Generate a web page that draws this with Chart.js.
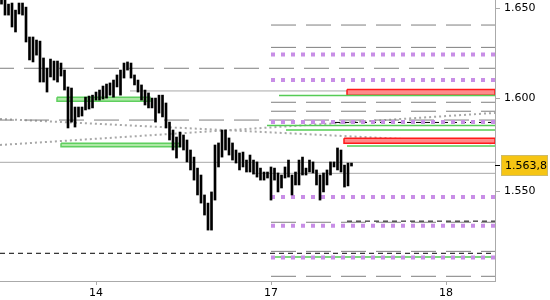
<!DOCTYPE html>
<html>
<head>
<meta charset="utf-8">
<script src="https://cdn.jsdelivr.net/npm/chart.js@4.4.1/dist/chart.umd.min.js"></script>
<style>
  html, body { margin: 0; padding: 0; background: #fff; }
</style>
</head>
<body>
<canvas id="chart" width="550" height="300"></canvas>
<script>
// time axis in trading days: 14th = 1, 17th = 2, 18th = 3
const dayTicks = [1, 2, 3];
const dayLabels = ['14', '17', '18'];
const priceTicks = [1.55, 1.6, 1.65];
const priceLabels = ['1.550', '1.600', '1.650'];
const xMin = 0.4514, xMax = 3.28;
const yMin = 1.50298, yMax = 1.65472;

// bars, one every 1/50 day
const firstBar = 0.46;
const barStep = 0.02;
const highs = [1.6564, 1.6547, 1.6524, 1.6530, 1.6490, 1.6530, 1.6530, 1.6507, 1.6339, 1.6339,
  1.6322, 1.6316, 1.6222, 1.6166, 1.6216, 1.6205, 1.6205, 1.6194, 1.6155, 1.6062,
  1.6056, 1.5952, 1.5952, 1.5952, 1.6006, 1.6012, 1.6017, 1.6034, 1.6045, 1.6067,
  1.6078, 1.6084, 1.6100, 1.6128, 1.6155, 1.6194, 1.6200, 1.6194, 1.6128, 1.6100,
  1.6073, 1.6045, 1.6029, 1.6001, 1.6001, 1.6017, 1.6017, 1.5974, 1.5870, 1.5827,
  1.5789, 1.5816, 1.5800, 1.5773, 1.5719, 1.5681, 1.5622, 1.5585, 1.5479, 1.5436,
  1.5495, 1.5746, 1.5757, 1.5827, 1.5827, 1.5784, 1.5757, 1.5719, 1.5703, 1.5708,
  1.5665, 1.5692, 1.5665, 1.5655, 1.5622, 1.5601, 1.5601, 1.5628, 1.5622, 1.5596,
  1.5585, 1.5628, 1.5665, 1.5585, 1.5601, 1.5665, 1.5681, 1.5622, 1.5665, 1.5655,
  1.5612, 1.5585, 1.5596, 1.5612, 1.5655, 1.5655, 1.5730, 1.5719, 1.5638, 1.5649,
  1.5649];
const lows = [1.6524, 1.6462, 1.6462, 1.6395, 1.6367, 1.6468, 1.6462, 1.6311, 1.6211, 1.6200,
  1.6238, 1.6089, 1.6089, 1.6034, 1.6117, 1.6100, 1.6089, 1.6122, 1.6045, 1.5838,
  1.5870, 1.5843, 1.5898, 1.5903, 1.5936, 1.5941, 1.5947, 1.5990, 1.5990, 1.5996,
  1.6001, 1.6017, 1.6006, 1.6062, 1.6017, 1.6111, 1.6155, 1.6111, 1.6073, 1.6034,
  1.5990, 1.5963, 1.5947, 1.5947, 1.5870, 1.5919, 1.5898, 1.5838, 1.5773, 1.5719,
  1.5676, 1.5735, 1.5719, 1.5655, 1.5612, 1.5558, 1.5479, 1.5436, 1.5373, 1.5294,
  1.5294, 1.5452, 1.5628, 1.5681, 1.5719, 1.5692, 1.5665, 1.5649, 1.5612, 1.5628,
  1.5601, 1.5601, 1.5590, 1.5574, 1.5558, 1.5558, 1.5569, 1.5452, 1.5558, 1.5495,
  1.5516, 1.5569, 1.5574, 1.5479, 1.5532, 1.5532, 1.5585, 1.5585, 1.5601, 1.5596,
  1.5532, 1.5452, 1.5495, 1.5532, 1.5585, 1.5628, 1.5612, 1.5601, 1.5521, 1.5527,
  1.5633];
const lastPrice = 1.5638;
const lastLabel = '1.563,8';

// horizontal levels (price, start day)
const dashLevels = [1.6406, 1.6281, 1.6165, 1.5978, 1.5929, 1.5881, 1.5335, 1.5183, 1.5054];
const dashStarts = [2, 2, xMin, 2, 2, xMin, 2, 2, 2];
const purpleLevels = [1.6242, 1.6100, 1.5870, 1.5468, 1.5317, 1.5151];
const purpleStarts = [2, 2, 2, 2, 2, 2];
const greyLevels = [1.6040, 1.5653, 1.5594];
const greyStarts = [1.1943, xMin, 1.8971];
const greenLevels = [1.6015, 1.5852, 1.5827, 1.5740, 1.5154];
const greenStarts = [2.0457, 1.9771, 2.0857, 2.4343, 2];
const blackLevels = [1.5868, 1.5341, 1.5173];
const blackStarts = [2.3657, 2.4343, xMin];
// zones: [top, bottom, from, to]
const redZones = [[1.6048, 1.6017, 2.4343, xMax], [1.5782, 1.5755, 2.4171, xMax]];
const greenZones = [[1.6005, 1.5983, 0.7771, 1.3086], [1.5755, 1.5737, 0.8, 1.48]];
// dotted trend lines: [start price, end price]
const trendLines = [[1.5887, 1.5754], [1.5746, 1.5920]];

function level(price, from, style) {
  return Object.assign({
    type: 'line',
    data: [{ x: from, y: price }, { x: xMax, y: price }],
    pointRadius: 0, fill: false, borderWidth: 1
  }, style);
}
function zone(z, style) {
  const [top, bot, from, to] = z;
  return Object.assign({
    type: 'line',
    data: [{ x: from, y: top }, { x: to, y: top }, { x: to, y: bot }, { x: from, y: bot }, { x: from, y: top }],
    pointRadius: 0, fill: 'shape', borderWidth: 1.5
  }, style);
}

const datasets = [];
datasets.push({
  type: 'bar',
  data: highs.map((h, i) => ({ x: firstBar + i * barStep, y: [lows[i], h] })),
  backgroundColor: '#000',
  barThickness: 2,
  order: 0
});
purpleLevels.forEach((p, i) => datasets.push(level(p, purpleStarts[i], {
  borderColor: '#c88ee6', borderWidth: 4, borderDash: [4, 6], borderCapStyle: 'butt', order: 1
})));
blackLevels.forEach((p, i) => datasets.push(level(p, blackStarts[i], {
  borderColor: '#000', borderDash: [5, 4], order: 2
})));
greenLevels.forEach((p, i) => datasets.push(level(p, greenStarts[i], {
  borderColor: '#55cc55', borderWidth: 1.5, order: 2
})));
redZones.forEach(z => datasets.push(zone(z, {
  borderColor: '#ff1a1a', backgroundColor: '#ff8a8a', order: 3
})));
greenZones.forEach(z => datasets.push(zone(z, {
  borderColor: '#5fcf5f', backgroundColor: '#aee8a6', order: 3
})));
dashLevels.forEach((p, i) => datasets.push(level(p, dashStarts[i], {
  borderColor: '#7f7f7f', borderDash: [25, 10], borderDashOffset: dashStarts[i] === xMin ? 11 : 0, order: 4
})));
greyLevels.forEach((p, i) => datasets.push(level(p, greyStarts[i], {
  borderColor: '#a8a8a8', order: 4
})));
trendLines.forEach(t => datasets.push({
  type: 'line',
  data: [{ x: xMin, y: t[0] }, { x: xMax, y: t[1] }],
  pointRadius: 0, fill: false,
  borderColor: '#a8a8a8', borderWidth: 2, borderDash: [2, 3], order: 5
}));

// last price marker on the right axis
const lastPricePlugin = {
  id: 'lastPrice',
  afterDraw(chart) {
    const ys = chart.scales.y, ctx = chart.ctx;
    const py = Math.round(ys.getPixelForValue(lastPrice));
    ctx.save();
    ctx.fillStyle = '#000';
    ctx.fillRect(ys.left, py, 5, 1);
    ctx.fillStyle = '#f6c514';
    ctx.fillRect(ys.left + 6, py - 10, 47, 21);
    ctx.strokeStyle = '#cdbb6a';
    ctx.lineWidth = 1;
    ctx.strokeRect(ys.left + 6.5, py - 9.5, 46, 20);
    ctx.fillStyle = '#000';
    ctx.font = '11px "DejaVu Sans"';
    ctx.textBaseline = 'middle';
    ctx.fillText(lastLabel, ys.left + 10, py + 1);
    ctx.restore();
  }
};

Chart.defaults.font.family = '"DejaVu Sans", sans-serif';
Chart.defaults.font.size = 11;
Chart.defaults.color = '#000';

new Chart(document.getElementById('chart'), {
  type: 'bar',
  data: { datasets },
  options: {
    responsive: false,
    animation: false,
    layout: { padding: 0 },
    plugins: { legend: { display: false }, tooltip: { enabled: false } },
    scales: {
      x: {
        type: 'linear', min: xMin, max: xMax, offset: false,
        afterBuildTicks: s => { s.ticks = dayTicks.map(v => ({ value: v })); },
        afterFit: s => { s.height = 19; s.paddingLeft = 0; s.paddingRight = 0; },
        ticks: { callback: (v, i) => dayLabels[i], padding: 2, maxRotation: 0 },
        grid: { drawOnChartArea: false, drawTicks: true, tickLength: 4, color: '#aaa', offset: false },
        border: { color: '#aaa' }
      },
      y: {
        type: 'logarithmic', position: 'right', min: yMin, max: yMax,
        afterBuildTicks: s => { s.ticks = priceTicks.map(v => ({ value: v })); },
        afterFit: s => { s.width = 55; s.paddingTop = 0; s.paddingBottom = 0; },
        ticks: { callback: (v, i) => priceLabels[i], padding: 4 },
        grid: { drawOnChartArea: false, drawTicks: true, tickLength: 5, color: '#aaa' },
        border: { color: '#aaa' }
      }
    }
  },
  plugins: [lastPricePlugin]
});
</script>
</body>
</html>
